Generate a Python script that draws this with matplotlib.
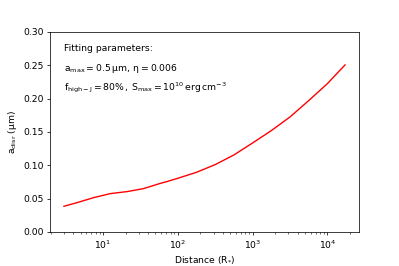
import matplotlib
matplotlib.use("Agg")
import matplotlib.pyplot as plt

distance = [3.0, 4.5, 7.5, 12.5, 20.9, 34.8, 56.9, 71.3, 100, 178, 316, 562, 1000,
            1778, 3162, 5623, 10000, 17200]
a_disr = [0.0385, 0.044, 0.0515, 0.0575, 0.0605, 0.065, 0.0725, 0.0755, 0.0805, 0.0895,
          0.101, 0.1155, 0.1335, 0.152, 0.1725, 0.197, 0.2225, 0.2505]

fig = plt.figure(figsize=(6, 4), dpi=66.5)
ax = fig.add_axes([0.125, 0.128, 0.775, 0.752])
ax.plot(distance, a_disr, color="red", lw=1.5)
ax.set_xscale("log")
ax.set_ylim(0, 0.30)
ax.set_yticks([0, 0.05, 0.10, 0.15, 0.20, 0.25, 0.30])
ax.set_yticklabels(["0.00", "0.05", "0.10", "0.15", "0.20", "0.25", "0.30"])
ax.set_xlabel(r"Distance (R$_{*}$)")
ax.set_ylabel(r"$\mathrm{a_{disr}\ (\mu m)}$")

ax.text(0.045, 0.915, "Fitting parameters:", transform=ax.transAxes, va="center")
ax.text(0.045, 0.815, r"$\mathrm{a_{max}=0.5\,\mu m,\,\eta=0.006}$",
        transform=ax.transAxes, va="center")
ax.text(0.045, 0.72, r"$\mathrm{f_{high-J}=80\%\,,\,S_{max}=10^{10}\,erg\,cm^{-3}}$",
        transform=ax.transAxes, va="center")

fig.savefig("out.png", dpi=66.5)
